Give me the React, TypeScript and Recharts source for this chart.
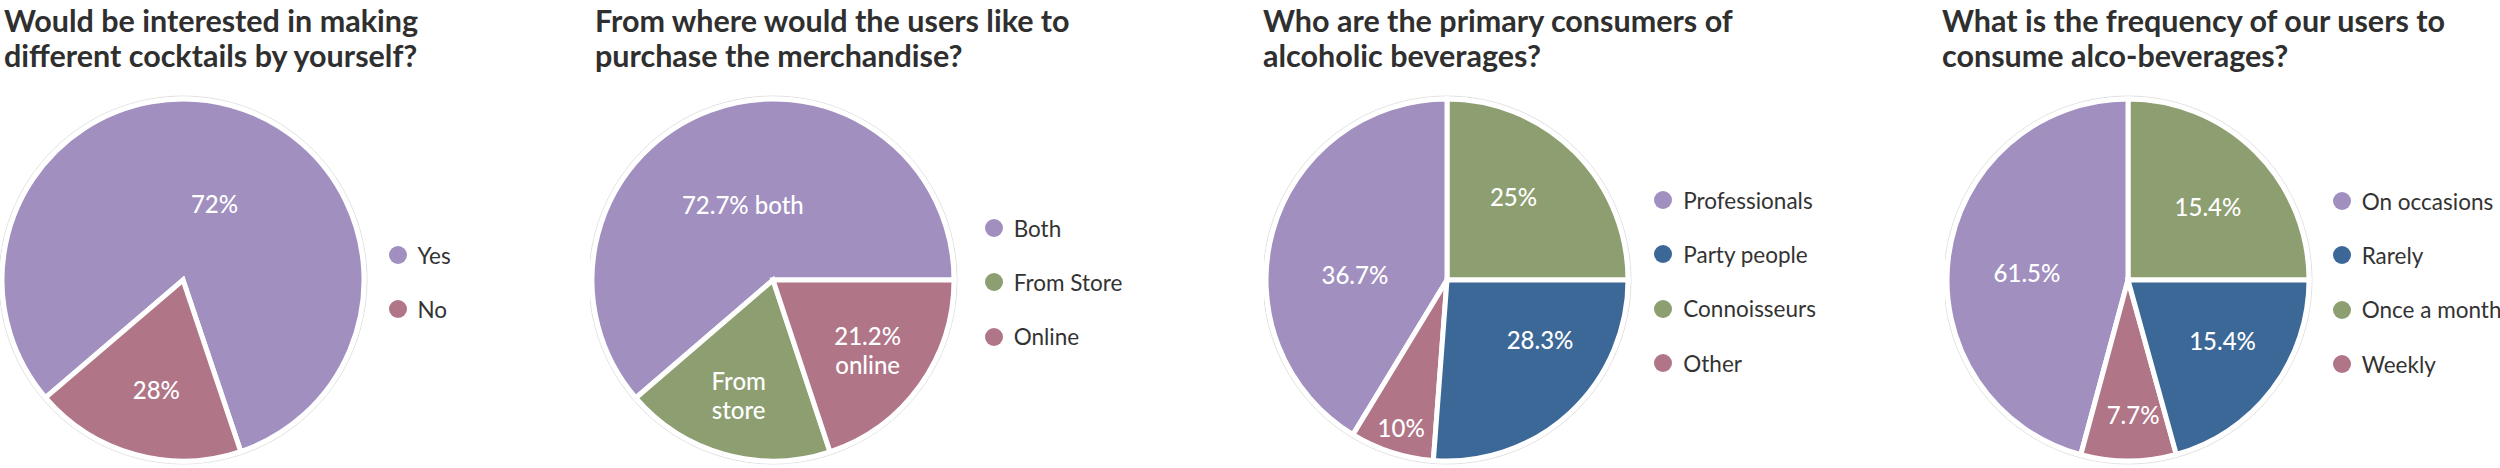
import React from 'react';
import { PieChart, Pie, Cell, Legend } from 'recharts';

const PURPLE = '#a18fc0';
const MAUVE = '#b07587';
const GREEN = '#8d9e71';
const BLUE = '#3c6898';

// 1. cocktails
const cocktailTitle = ['Would be interested in making', 'different cocktails by yourself?'];
const cocktailNames = ['Yes', 'No'];
const cocktailValues = [81.1, 18.9];
const cocktailLabels = [['72%'], ['28%']];
const cocktailColors = [PURPLE, MAUVE];

// 2. merchandise
const merchTitle = ['From where would the users like to', 'purchase the merchandise?'];
const merchNames = ['Both', 'From Store', 'Online'];
const merchValues = [61.3, 18.8, 19.9];
const merchLabels = [['72.7% both'], ['From', 'store'], ['21.2%', 'online']];
const merchColors = [PURPLE, GREEN, MAUVE];

// 3. consumers (slices in drawing order, legend in its own order)
const consumerTitle = ['Who are the primary consumers of', 'alcoholic beverages?'];
const consumerNames = ['Connoisseurs', 'Professionals', 'Other', 'Party people'];
const consumerValues = [25, 41.3, 7.5, 26.2];
const consumerLabels = [['25%'], ['36.7%'], ['10%'], ['28.3%']];
const consumerColors = [GREEN, PURPLE, MAUVE, BLUE];
const consumerLegend = ['Professionals', 'Party people', 'Connoisseurs', 'Other'];

// 4. frequency
const freqTitle = ['What is the frequency of our users to', 'consume alco-beverages?'];
const freqNames = ['Once a month', 'On occasions', 'Weekly', 'Rarely'];
const freqValues = [25, 45.8, 8.5, 20.7];
const freqLabels = [['15.4%'], ['61.5%'], ['7.7%'], ['15.4%']];
const freqColors = [GREEN, PURPLE, MAUVE, BLUE];
const freqLegend = ['On occasions', 'Rarely', 'Once a month', 'Weekly'];

type PanelCfg = {
  title: string[];
  names: string[];
  values: number[];
  labels: string[][];
  colors: string[];
  legend: string[];
  startAngle: number;
  // [angle nudge in degrees, radius fraction] for each label
  labelPlace: [number, number][];
  left: number;
  width: number;
  titleX: number;
  legendX: number;
  legendY: number;
};

const panels: PanelCfg[] = [
  {
    title: cocktailTitle, names: cocktailNames, values: cocktailValues, labels: cocktailLabels,
    colors: cocktailColors, legend: cocktailNames, startAngle: -71.4,
    labelPlace: [[-6.8, 0.46], [1.7, 0.62]],
    left: 0, width: 590, titleX: 4, legendX: 388.5, legendY: 228,
  },
  {
    title: merchTitle, names: merchNames, values: merchValues, labels: merchLabels,
    colors: merchColors, legend: merchNames, startAngle: 0,
    labelPlace: [[1.4, 0.45], [-1.2, 0.66], [-0.6, 0.65]],
    left: 590, width: 674, titleX: 5, legendX: 394.7, legendY: 201,
  },
  {
    title: consumerTitle, names: consumerNames, values: consumerValues, labels: consumerLabels,
    colors: consumerColors, legend: consumerLegend, startAngle: 0,
    labelPlace: [[6.5, 0.59], [12.1, 0.51], [0.5, 0.85], [14.6, 0.61]],
    left: 1264, width: 681, titleX: -1, legendX: 390.3, legendY: 173,
  },
  {
    title: freqTitle, names: freqNames, values: freqValues, labels: freqLabels,
    colors: freqColors, legend: freqLegend, startAngle: 0,
    labelPlace: [[-2.4, 0.6], [2.8, 0.56], [2, 0.74], [4.7, 0.62]],
    left: 1945, width: 555, titleX: -3, legendX: 387.7, legendY: 174,
  },
];

const FONT = 'Lato, "Open Sans", sans-serif';

const makeLabel = (cfg: PanelCfg) => (props: any) => {
  const { cx, cy, midAngle, outerRadius, index } = props;
  const [nudge, frac] = cfg.labelPlace[index];
  const a = ((midAngle + nudge) * Math.PI) / 180;
  const r = outerRadius * frac;
  const x = cx + r * Math.cos(a);
  const y = cy - r * Math.sin(a);
  const lines = cfg.labels[index];
  const lh = 29;
  return (
    <text
      x={x}
      y={y}
      fill="#fff"
      textAnchor="middle"
      dominantBaseline="central"
      fontSize={24}
      fontWeight={500}
      fontFamily={FONT}
    >
      {lines.map((l, i) => (
        <tspan key={i} x={x} dy={i === 0 ? (-(lines.length - 1) * lh) / 2 : lh}>
          {l}
        </tspan>
      ))}
    </text>
  );
};

const makeLegend = (cfg: PanelCfg) => () => (
  <div>
    {cfg.legend.map((n) => (
      <div key={n} style={{ display: 'flex', alignItems: 'center', height: 54.3 }}>
        <span
          style={{
            width: 18,
            height: 18,
            borderRadius: '50%',
            background: cfg.colors[cfg.names.indexOf(n)],
            marginRight: 11,
            flex: 'none',
          }}
        />
        <span style={{ fontSize: 22.5, color: '#333', fontFamily: FONT, whiteSpace: 'nowrap' }}>{n}</span>
      </div>
    ))}
  </div>
);

function Panel({ cfg }: { cfg: PanelCfg }) {
  const data = cfg.names.map((name, i) => ({ name, value: cfg.values[i] }));
  return (
    <div style={{ position: 'absolute', left: cfg.left, top: 0, width: cfg.width, height: 468 }}>
      <div
        style={{
          position: 'absolute',
          left: cfg.titleX,
          top: 3,
          fontFamily: FONT,
          fontWeight: 700,
          fontSize: 30.5,
          lineHeight: '34.5px',
          color: '#2f2f2f',
          whiteSpace: 'nowrap',
          zIndex: 2,
        }}
      >
        {cfg.title.map((t) => (
          <div key={t}>{t}</div>
        ))}
      </div>
      <PieChart width={cfg.width} height={468} margin={{ top: 0, right: 0, bottom: 0, left: 0 }}>
        <Pie
          data={[{ name: 'ring', value: 1 }]}
          dataKey="value"
          cx={183}
          cy={280}
          outerRadius={184}
          fill="#fff"
          stroke="#e0e0e0"
          strokeWidth={1}
          isAnimationActive={false}
          legendType="none"
        />
        <Pie
          data={data}
          dataKey="value"
          nameKey="name"
          cx={183}
          cy={280}
          outerRadius={181}
          startAngle={cfg.startAngle}
          endAngle={cfg.startAngle + 360}
          stroke="#fff"
          strokeWidth={5}
          labelLine={false}
          label={makeLabel(cfg)}
          isAnimationActive={false}
        >
          {data.map((d, i) => (
            <Cell key={d.name} fill={cfg.colors[i]} />
          ))}
        </Pie>
        <Legend
          content={makeLegend(cfg)}
          wrapperStyle={{ left: cfg.legendX, top: cfg.legendY, width: 'auto', height: 'auto' }}
        />
      </PieChart>
    </div>
  );
}

export default function App() {
  return (
    <div
      style={{
        position: 'absolute',
        left: 0,
        top: 0,
        width: 2500,
        height: 468,
        background: '#fff',
        overflow: 'hidden',
      }}
    >
      {panels.map((p, i) => (
        <Panel key={i} cfg={p} />
      ))}
    </div>
  );
}
